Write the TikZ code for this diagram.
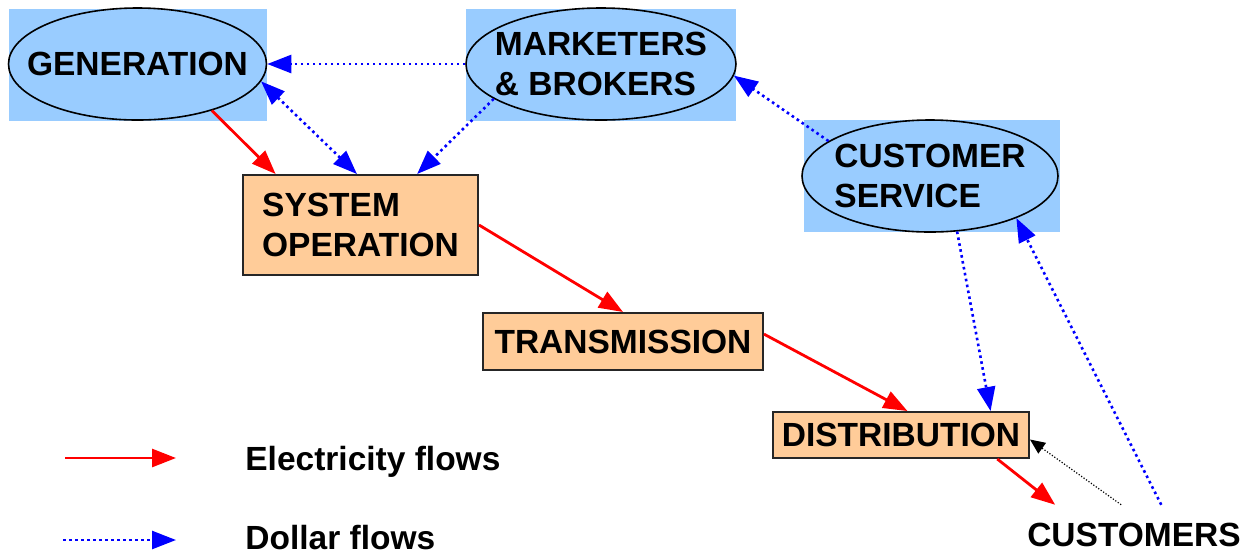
\documentclass[tikz,border=0pt]{standalone}
\usepackage{fontspec}
\setmainfont{Liberation Sans}
\usetikzlibrary{arrows.meta,shapes.geometric}
\definecolor{skyfill}{HTML}{99CCFF}
\definecolor{peachfill}{HTML}{FFCC99}
\begin{document}
\begin{tikzpicture}[x=0.5pt,y=-0.5pt,>={Triangle[length=12pt,width=9pt]},
  font=\fontsize{16.75}{20}\selectfont\bfseries,
  pad/.style={rectangle,fill=skyfill,inner sep=0pt},
  party/.style={ellipse,draw=black,line width=0.8pt,fill=skyfill,inner sep=0pt},
  stage/.style={rectangle,draw=black!85,line width=1pt,fill=peachfill,inner sep=0pt,align=left},
  power/.style={red,line width=1.4pt,->},
  money/.style={blue,line width=1.3pt,dash pattern=on 1.3pt off 1.7pt},
  meter/.style={black,line width=0.6pt,dash pattern=on 0.6pt off 0.9pt,-{Triangle[length=7.5pt,width=6.5pt]}}]
\useasboundingbox (0,0) rectangle (1250,554);
% the three parties, each an ellipse on a sky pad
\node[pad,minimum width=129pt,minimum height=56pt] (gen-pad) at (138,65) {};
\node[party,minimum width=129pt,minimum height=56pt,label={center:GENERATION}] (gen) at (137.5,64) {};
\node[pad,minimum width=135pt,minimum height=56pt] (mkt-pad) at (601,65) {};
\node[party,minimum width=135pt,minimum height=56pt,label={[align=left]center:{MARKETERS\\\& BROKERS}}] (mkt) at (601,64) {};
\node[pad,minimum width=128pt,minimum height=56pt] (cs-pad) at (932,176) {};
\node[party,minimum width=128pt,minimum height=56pt,label={[align=left]center:{CUSTOMER\\SERVICE}}] (cs) at (930,176) {};
% the chain of wires
\node[stage,minimum width=117.5pt,minimum height=50pt] (sysop) at (360.5,225) {SYSTEM\\OPERATION};
\node[stage,minimum width=140pt,minimum height=28.5pt] (trans) at (623,341.5) {TRANSMISSION};
\node[stage,minimum width=128pt,minimum height=23pt] (distr) at (901,435) {DISTRIBUTION};
\node[inner xsep=0pt,inner ysep=9pt] (cust) at (1134,535) {CUSTOMERS};
% electricity
\draw[power] (gen.-32) -- (sysop.149);
\draw[power] (sysop.east) -- (trans.north);
\draw[power] (trans.3.5) -- (distr.75);
\draw[power] (distr.-14) -- (cust.159);
% dollars
\draw[money,<->] (sysop.94) -- (gen.-8);
\draw[money,->] (mkt.west) -- (gen.east);
\draw[money,->] (mkt.198) -- (sysop.42.5);
\draw[money,->] (cs.161) -- (mkt.-5);
\draw[money,->] (cs.-64) -- (distr.15.7);
\draw[money,->] (cust.48) -- (cs.-26);
\draw[meter] (cust.113) -- (distr.-2);
% key
\coordinate (elec-tail) at (65,458);
\coordinate (elec-head) at (176,458);
\coordinate (dollar-tail) at (63,540);
\coordinate (dollar-head) at (176,540);
\draw[power] (elec-tail) -- (elec-head);
\draw[money,->] (dollar-tail) -- (dollar-head);
\node[anchor=base west,inner sep=0pt] (elec-key) at (245,470) {Electricity flows};
\node[anchor=base west,inner sep=0pt] (dollar-key) at (245,549) {Dollar flows};
\end{tikzpicture}
\end{document}
